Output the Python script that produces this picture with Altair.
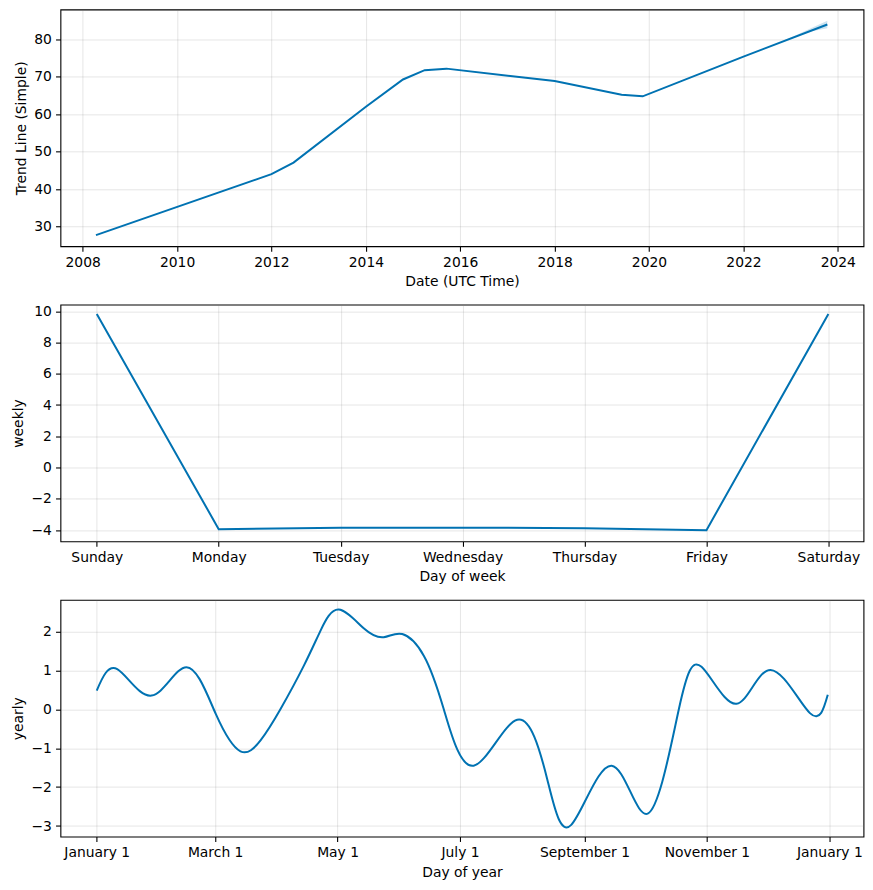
import altair as alt
import pandas as pd

# ---------------- data ----------------
trend_dates = ["2008-04-13", "2012-01-01", "2012-06-20", "2014-01-01", "2014-10-15",
               "2015-04-01", "2015-09-16", "2018-01-01", "2019-06-03", "2019-11-13",
               "2022-01-01", "2023-10-12"]
trend_values = [27.7, 44.0, 47.1, 62.0, 69.3, 71.8, 72.2, 68.9, 65.2, 64.8, 75.4, 84.0]

band_dates = ["2022-10-15", "2023-02-15", "2023-06-15", "2023-10-12"]
band_lower = [79.4, 80.8, 82.2, 83.0]
band_upper = [79.4, 81.2, 83.1, 85.0]

year_ticks = [2008, 2010, 2012, 2014, 2016, 2018, 2020, 2022, 2024]

week_days = ["Sunday", "Monday", "Tuesday", "Wednesday", "Thursday", "Friday", "Saturday"]
week_values = [9.83, -3.94, -3.84, -3.84, -3.88, -4.0, 9.83]

year_days = [0, 10.2, 27.3, 44.7, 59.3, 71.6, 81.6, 91.5, 103.2, 111.5, 120.5, 133,
             143, 152.2, 163, 172.9, 187.8, 209.5, 224.4, 236.4, 256.5, 274.5, 290,
             301.3, 318.7, 335.7, 355.3, 364.2]
year_values = [0.48, 1.03, 0.35, 1.08, -0.12, -1.08, -0.8, 0.0, 1.12, 2.02, 2.56, 2.08,
               1.85, 1.93, 1.37, 0.0, -1.45, -0.27, -1.79, -2.97, -1.45, -2.68, 0.0,
               1.09, 0.14, 1.01, -0.10, 0.37]
month_ticks = [(2017, 1), (2017, 3), (2017, 5), (2017, 7), (2017, 9), (2017, 11), (2018, 1)]

# ---------------- style ----------------
LINE = "#0072B2"
FONT = "DejaVu Sans"
FS = 13.9
W, H = 804, 237


def ax(**kw):
    return alt.Axis(grid=True, gridColor="#808080", gridOpacity=0.2, gridWidth=1,
                    domain=False, ticks=True, tickColor="black", tickSize=4.9,
                    tickWidth=1.1, labelFontSize=FS, labelFont=FONT, labelColor="black",
                    labelPadding=4.2, titleFontSize=FS, titleFont=FONT,
                    titleColor="black", titleFontWeight="normal", titlePadding=5.6,
                    labelFlush=False, labelOverlap=False, **kw)


# ---------------- panel 1: trend ----------------
trend_df = pd.DataFrame({"ds": pd.to_datetime(trend_dates), "trend": trend_values})
band_df = pd.DataFrame({"ds": pd.to_datetime(band_dates), "lo": band_lower, "hi": band_upper})

x1_scale = alt.Scale(domain=[alt.DateTime(year=2007, month=7, date=13),
                             alt.DateTime(year=2024, month=7, date=18)])
y1_scale = alt.Scale(domain=[24.74, 88.0], nice=False, zero=False)

band = alt.Chart(band_df).mark_area(color=LINE, opacity=0.2).encode(
    x=alt.X("ds:T", scale=x1_scale, title="Date (UTC Time)",
            axis=ax(values=[alt.DateTime(year=y, month=1, date=1) for y in year_ticks],
                    format="%Y")),
    y=alt.Y("lo:Q", scale=y1_scale, title="Trend Line (Simple)",
            axis=ax(values=[30, 40, 50, 60, 70, 80])),
    y2="hi:Q",
)
trend_line = alt.Chart(trend_df).mark_line(color=LINE, strokeWidth=2).encode(
    x=alt.X("ds:T", scale=x1_scale),
    y=alt.Y("trend:Q", scale=y1_scale),
)
p1 = alt.layer(band, trend_line).properties(width=W, height=H)

# ---------------- panel 2: weekly ----------------
week_df = pd.DataFrame({"i": list(range(len(week_days))), "weekly": week_values})
label_expr = "[" + ",".join(f"'{d}'" for d in week_days) + "][datum.value]"
p2 = alt.Chart(week_df).mark_line(color=LINE, strokeWidth=2).encode(
    x=alt.X("i:Q", title="Day of week",
            scale=alt.Scale(domain=[-0.298, 6.288], nice=False, zero=False),
            axis=ax(values=list(range(len(week_days))), labelExpr=label_expr)),
    y=alt.Y("weekly:Q", title="weekly",
            scale=alt.Scale(domain=[-4.72, 10.42], nice=False, zero=False),
            axis=ax(values=[-4, -2, 0, 2, 4, 6, 8, 10])),
).properties(width=W, height=H)

# ---------------- panel 3: yearly ----------------
year_df = pd.DataFrame({
    "ds": pd.Timestamp("2017-01-01") + pd.to_timedelta(year_days, unit="D"),
    "yearly": year_values,
})
p3 = alt.Chart(year_df).mark_line(color=LINE, strokeWidth=2, interpolate="natural").encode(
    x=alt.X("ds:T", title="Day of year",
            scale=alt.Scale(domain=[alt.DateTime(year=2016, month=12, date=13, hours=22),
                                    alt.DateTime(year=2018, month=1, date=18)]),
            axis=ax(values=[alt.DateTime(year=y, month=m, date=1) for y, m in month_ticks],
                    format="%B %-d")),
    y=alt.Y("yearly:Q", title="yearly",
            scale=alt.Scale(domain=[-3.27, 2.81], nice=False, zero=False),
            axis=ax(values=[-3, -2, -1, 0, 1, 2])),
).properties(width=W, height=H)

chart = alt.vconcat(
    p1, p2, p3, spacing=58.5, bounds="flush",
    background="white", padding={"left": 2.5, "top": 0, "right": 0.5, "bottom": 0},
).configure_view(stroke="black", strokeWidth=1.1)

chart.save("out.html", embed_options={"renderer": "svg", "actions": False})
